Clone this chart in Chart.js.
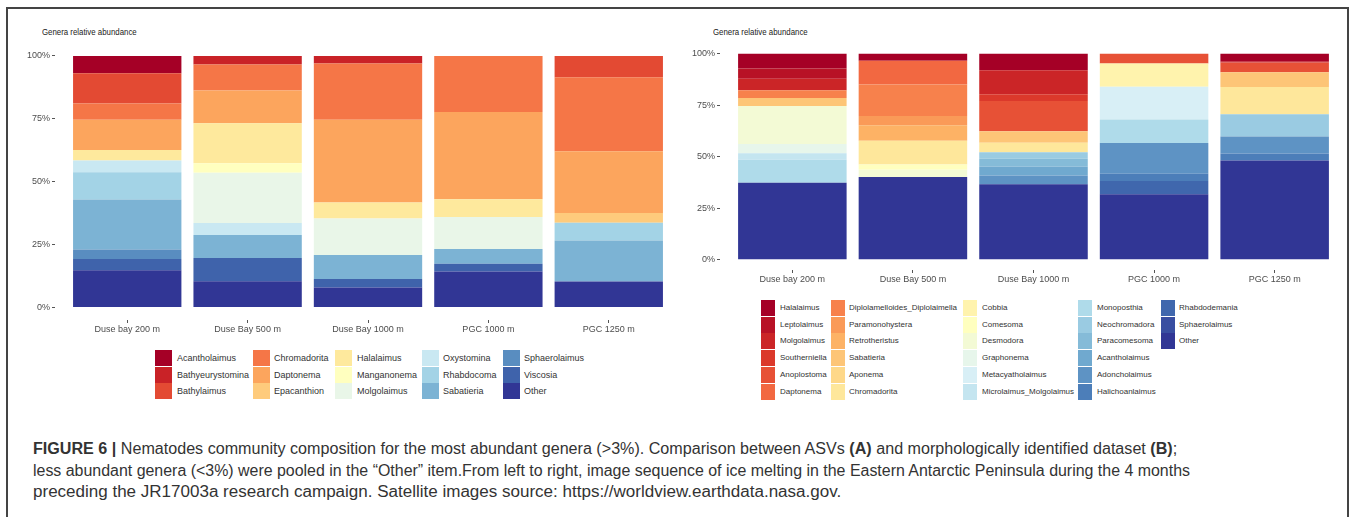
<!DOCTYPE html>
<html>
<head>
<meta charset="utf-8">
<script src="https://cdn.jsdelivr.net/npm/chart.js@4.4.0/dist/chart.umd.min.js"></script>
<style>
  body { margin: 0; width: 1355px; height: 517px; background: #fff; position: relative; overflow: hidden;
         font-family: "Liberation Sans", Arial, sans-serif; }
  #frame { position: absolute; left: 6px; top: 7px; width: 1343px; height: 530px; border: 2px solid #444; box-sizing: border-box; }
  canvas { position: absolute; }
  .title { position: absolute; font-size: 9.5px; line-height: 12px; color: #222; white-space: nowrap; transform-origin: 0 50%; }
  .sw { position: absolute; }
  .lab { position: absolute; white-space: nowrap; color: #333; }
  .cap { position: absolute; left: 33px; font-size: 16px; line-height: 20px; color: #333; white-space: nowrap; transform-origin: 0 0; }
</style>
</head>
<body>
<div id="frame"></div>
<div class="title" style="left:42px;top:26px" data-w="95">Genera relative abundance</div>
<div class="title" style="left:713px;top:26px" data-w="95">Genera relative abundance</div>
<canvas id="chartA" width="685" height="300" style="left:0;top:36px"></canvas>
<canvas id="chartB" width="670" height="250" style="left:685px;top:36px"></canvas>
<div id="legA"></div>
<div id="legB"></div>
<div class="cap" style="top:439px" data-w="1144"><b>FIGURE 6 |</b> Nematodes community composition for the most abundant genera (&gt;3%). Comparison between ASVs <b>(A)</b> and morphologically identified dataset <b>(B)</b>;</div>
<div class="cap" style="top:461px" data-w="1157">less abundant genera (&lt;3%) were pooled in the “Other” item.From left to right, image sequence of ice melting in the Eastern Antarctic Peninsula during the 4 months</div>
<div class="cap" style="top:482px" data-w="808">preceding the JR17003a research campaign. Satellite images source: https://worldview.earthdata.nasa.gov.</div>
<script>
// sites on the x axis (A and B)
var sitesA = ["Duse bay 200 m", "Duse Bay 500 m", "Duse Bay 1000 m", "PGC 1000 m", "PGC 1250 m"];
var sitesB = ["Duse bay 200 m", "Duse Bay 500 m", "Duse Bay 1000 m", "PGC 1000 m", "PGC 1250 m"];
var yTicks = [0, 25, 50, 75, 100];

// (A) ASVs - relative abundance (%) per genus, one value per site
var generaA = ["Acantholaimus", "Bathyeurystomina", "Bathylaimus", "Chromadorita", "Daptonema",
  "Epacanthion", "Halalaimus", "Manganonema", "Molgolaimus", "Oxystomina",
  "Rhabdocoma", "Sabatieria", "Sphaerolaimus", "Viscosia", "Other"];
var valuesA = [
  [6.9, 0, 0, 0, 0],
  [0, 3.4, 3.0, 0, 0],
  [12.0, 0, 0, 0, 8.5],
  [6.5, 10.3, 22.4, 22.3, 29.4],
  [12.0, 13.1, 32.9, 34.7, 24.5],
  [0, 0, 0, 0, 3.9],
  [4.2, 15.9, 6.3, 7.0, 0],
  [0, 3.7, 0, 0, 0],
  [0, 20.0, 14.6, 12.8, 0],
  [4.6, 4.8, 0, 0, 0],
  [10.9, 0, 0, 0, 7.1],
  [19.9, 9.1, 9.5, 5.8, 16.3],
  [3.7, 0, 0, 0, 0],
  [4.5, 9.3, 3.4, 3.1, 0],
  [14.8, 10.4, 7.9, 14.3, 10.3]
];

// (B) morphological dataset
var generaB = ["Halalaimus", "Leptolaimus", "Molgolaimus", "Southerniella", "Anoplostoma", "Daptonema",
  "Diplolamelloides_Diplolaimella", "Paramonohystera", "Retrotheristus", "Sabatieria", "Aponema", "Chromadorita",
  "Cobbia", "Comesoma", "Desmodora", "Graphonema", "Metacyatholaimus", "Microlaimus_Molgolaimus",
  "Monoposthia", "Neochromadora", "Paracomesoma", "Acantholaimus", "Adoncholaimus", "Halichoanlaimus",
  "Rhabdodemania", "Sphaerolaimus", "Other"];
var valuesB = [
  [7.2, 3.4, 8.0, 0, 3.7],
  [5.0, 0, 0, 0, 0.6],
  [5.5, 0, 11.7, 0, 0],
  [0, 0, 3.3, 0, 0],
  [0, 0, 14.7, 4.8, 4.7],
  [0, 11.5, 0, 0, 0],
  [3.8, 15.3, 0, 0, 0],
  [0, 4.5, 0, 0, 0],
  [0, 7.5, 0, 0, 0],
  [3.9, 0, 5.5, 0, 7.2],
  [0, 0, 0, 0, 0],
  [0, 11.6, 4.6, 0, 13.2],
  [0, 0, 0, 11.3, 0],
  [0, 2.5, 0, 0, 0],
  [18.4, 3.6, 0, 0, 0],
  [4.5, 0, 0, 0, 0],
  [0, 0, 0, 15.8, 0],
  [3.2, 0, 0, 0, 0],
  [11.1, 0, 0, 11.4, 0],
  [0, 0, 3.2, 0, 10.8],
  [0, 0, 3.7, 0, 0],
  [0, 0, 4.4, 0, 0],
  [0, 0, 4.3, 15.0, 8.2],
  [0, 0, 0, 3.5, 3.5],
  [0, 0, 0, 6.4, 0],
  [0, 0, 0, 0, 0],
  [37.4, 40.1, 36.6, 31.8, 48.1]
];

// RdYlBu ramps
var colorsA = ["#A50026", "#C92227", "#E34A33", "#F57647", "#FCA55D", "#FECB7C", "#FEE99D", "#FFFFBF",
  "#E9F6E8", "#C9E8F2", "#A3D3E6", "#7CB3D4", "#598DC0", "#3F63AB", "#313695"];
var colorsB = ["#A50026", "#B81226", "#CB2527", "#DB392B", "#E75136", "#F26841", "#F7814C", "#FA9A58",
  "#FDB265", "#FDC577", "#FED889", "#FEE79B", "#FFF3AD", "#FFFFBF", "#F3FAD5", "#E7F6EB", "#D8EFF6",
  "#C4E5F0", "#AFDBEA", "#9ACBE2", "#85BBD8", "#70A9CF", "#5E93C4", "#4C7EB9", "#4067AD", "#394EA1", "#313695"];

var axisFont = { family: "'Liberation Sans', Arial, sans-serif", size: 9 };

function makeChart(id, sites, genera, values, colors, axisW, padRight) {
  // first level sits on top of the stack, so feed datasets bottom-up
  var datasets = genera.map(function (g, k) {
    return {
      label: g,
      data: values[k].map(function (v, i) { return { x: i + 1, y: v > 0 ? v : null }; }),
      backgroundColor: colors[k],
      borderWidth: 0,
      barPercentage: 0.9,
      categoryPercentage: 1
    };
  }).reverse();

  return new Chart(document.getElementById(id), {
    type: 'bar',
    data: { datasets: datasets },
    options: {
      responsive: false,
      animation: false,
      layout: { padding: { left: 0, right: padRight, top: 6, bottom: 0 } },
      plugins: { legend: { display: false }, tooltip: { enabled: false } },
      scales: {
        x: {
          type: 'linear', stacked: true, min: 0.4, max: 5.6, offset: false,
          afterBuildTicks: function (s) { s.ticks = sites.map(function (_, i) { return { value: i + 1 }; }); },
          afterFit: function (s) { s.height = 16; },
          ticks: { callback: function (v) { return sites[v - 1]; }, font: axisFont, color: '#4d4d4d',
                   padding: 1, autoSkip: false, maxRotation: 0 },
          grid: { drawOnChartArea: false, offset: false, tickLength: 3, color: '#555' },
          border: { display: false }
        },
        y: {
          stacked: true, min: -5, max: 105,
          afterBuildTicks: function (s) { s.ticks = yTicks.map(function (v) { return { value: v }; }); },
          afterFit: function (s) { s.width = axisW; },
          ticks: { callback: function (v) { return v + '%'; }, font: axisFont, color: '#4d4d4d', padding: 2 },
          grid: { drawOnChartArea: false, tickLength: 3, color: '#555' },
          border: { display: false }
        }
      }
    }
  });
}

makeChart('chartA', sitesA, generaA, valuesA, colorsA, 55, 4);
makeChart('chartB', sitesB, generaB, valuesB, colorsB, 35, 8);

function buildLegend(box, genera, colors, rows, swX, labX, top, swW, fontSize) {
  var el = document.getElementById(box);
  genera.forEach(function (g, k) {
    var col = Math.floor(k / rows), row = k % rows;
    var y = top + row * 16.7;
    var sw = document.createElement('div');
    sw.className = 'sw';
    sw.style.cssText = 'left:' + swX[col] + 'px;top:' + y + 'px;width:' + swW + 'px;height:16px;background:' + colors[k];
    el.appendChild(sw);
    var lb = document.createElement('div');
    lb.className = 'lab';
    lb.textContent = g;
    lb.style.cssText = 'left:' + labX[col] + 'px;top:' + y + 'px;line-height:16px;font-size:' + fontSize + 'px';
    el.appendChild(lb);
  });
}

buildLegend('legA', generaA, colorsA, 3, [155, 253, 335, 422, 503], [177, 274, 357, 443, 524], 350, 17, 9);
buildLegend('legB', generaB, colorsB, 6, [761, 831, 963, 1078, 1161], [780, 849, 982, 1097, 1179], 300, 14, 8);

// squeeze texts to the width they take in the figure
document.querySelectorAll('[data-w]').forEach(function (el) {
  var w = el.offsetWidth;
  el.style.transform = 'scaleX(' + (+el.dataset.w / w) + ')';
});
</script>
</body>
</html>
